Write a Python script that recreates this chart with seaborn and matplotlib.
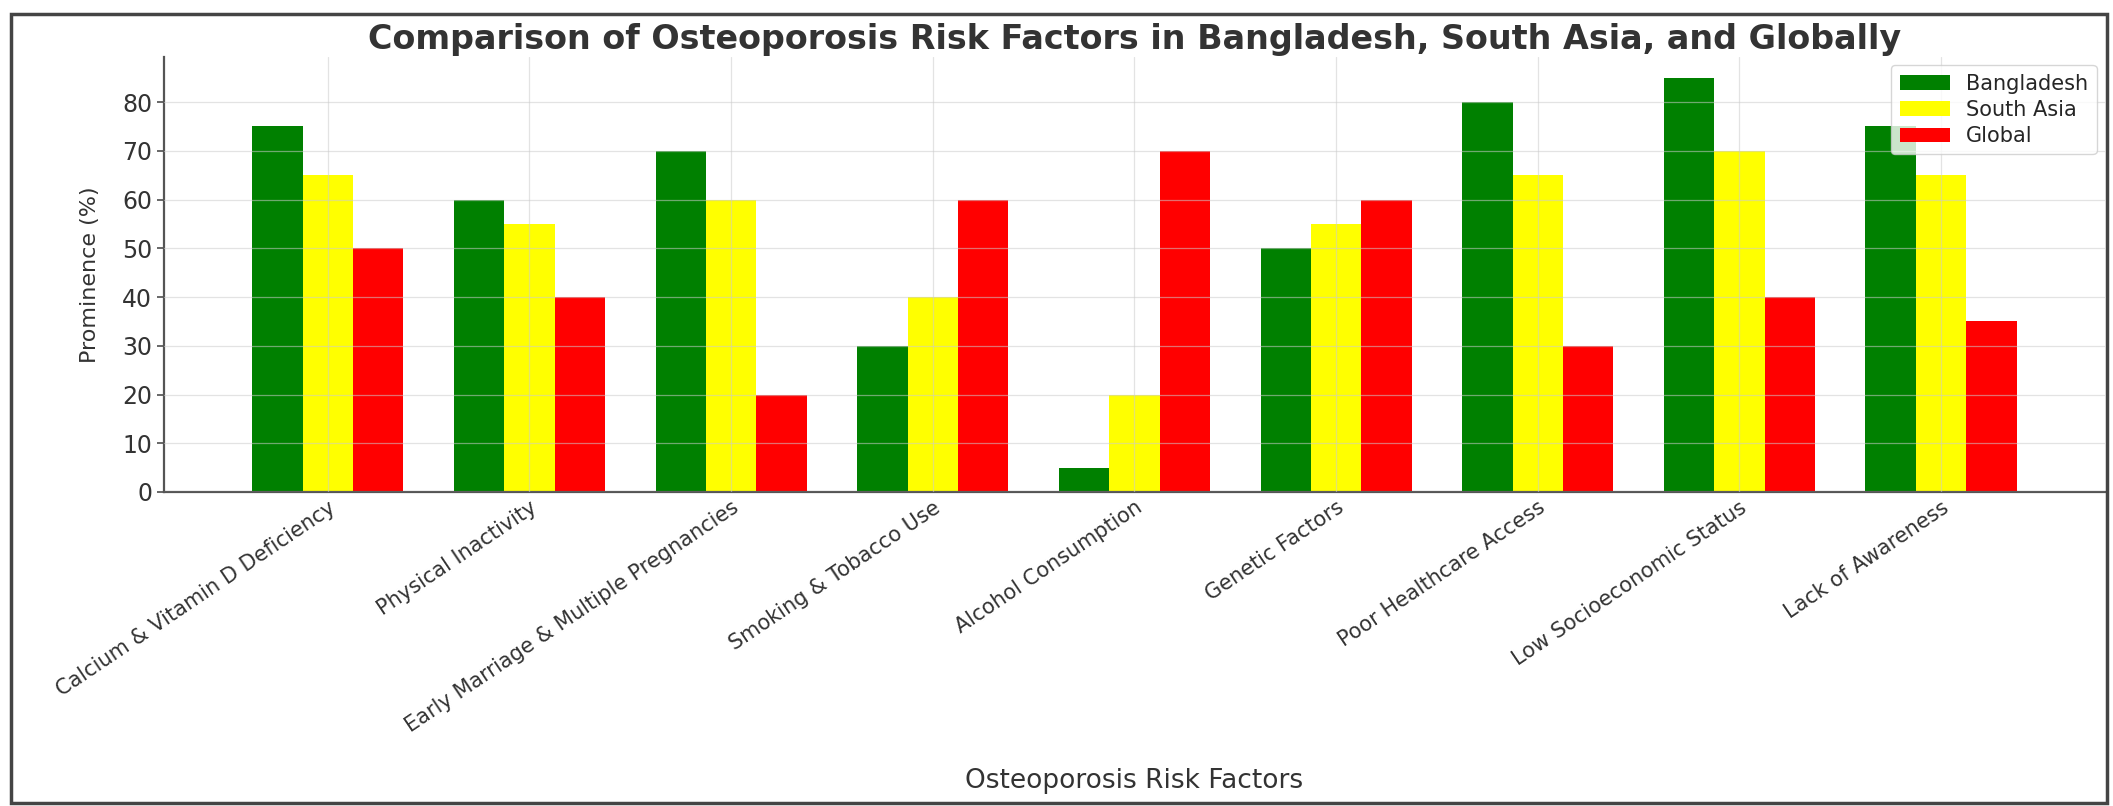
import pandas as pd
import seaborn as sns
import matplotlib.pyplot as plt
from matplotlib.patches import Rectangle

# data
factors = [
    "Calcium & Vitamin D Deficiency",
    "Physical Inactivity",
    "Early Marriage & Multiple Pregnancies",
    "Smoking & Tobacco Use",
    "Alcohol Consumption",
    "Genetic Factors",
    "Poor Healthcare Access",
    "Low Socioeconomic Status",
    "Lack of Awareness",
]
bangladesh = [75, 60, 70, 30, 5, 50, 80, 85, 75]
south_asia = [65, 55, 60, 40, 20, 55, 65, 70, 65]
global_vals = [50, 40, 20, 60, 70, 60, 30, 40, 35]
regions = ["Bangladesh", "South Asia", "Global"]
colors = ["green", "yellow", "red"]

df = pd.DataFrame({
    "factor": factors * 3,
    "value": bangladesh + south_asia + global_vals,
    "region": [r for r in regions for _ in factors],
})

sns.set_theme(style="whitegrid")
plt.rcParams['font.family'] = ['DejaVu Sans']

fig = plt.figure(figsize=(21.13, 8.06), dpi=100)
ax = fig.add_axes([0.0776, 0.3896, 0.9186, 0.5397])

sns.barplot(
    data=df,
    x="factor",
    y="value",
    hue="region",
    palette=colors,
    saturation=1,
    width=0.75,
    errorbar=None,
    linewidth=0,
    ax=ax,
)

ax.set_xlim(-0.8125, 8.8125)
ax.set_ylim(0, 89.25)
ax.set_yticks(range(0, 90, 10))

# grid on both axes, drawn over the bars
ax.set_axisbelow(False)
ax.grid(True, axis="both", color="#cccccc", linewidth=0.9, alpha=0.55)

for side in ["top", "right"]:
    ax.spines[side].set_visible(False)
for side in ["left", "bottom"]:
    ax.spines[side].set_color("#555555")
    ax.spines[side].set_linewidth(1.6)

ax.tick_params(axis="x", direction="in", length=5, color="#555555", labelsize=15,
               labelcolor="#333333", pad=4)
ax.tick_params(axis="y", direction="out", length=5, color="#555555", left=True,
               labelsize=17, labelcolor="#333333")
plt.setp(ax.get_xticklabels(), rotation=34, ha="right", rotation_mode="anchor")

ax.set_title("Comparison of Osteoporosis Risk Factors in Bangladesh, South Asia, and Globally",
             fontsize=24, fontweight="bold", color="#333333", pad=6)
ax.set_xlabel("Osteoporosis Risk Factors", fontsize=19, color="#333333")
ax.set_ylabel("Prominence (%)", fontsize=16, color="#333333", labelpad=16)
ax.xaxis.set_label_coords(0.5, -0.635)

ax.legend(loc="upper right", fontsize=15, frameon=True, framealpha=0.8,
          edgecolor="#cccccc", handlelength=2.4, labelspacing=0.3,
          borderaxespad=0.4)

# outer frame of the picture
fig.patches.append(Rectangle((0.005, 0.004), 0.992, 0.979, transform=fig.transFigure,
                             fill=False, edgecolor="#444444", linewidth=2.5))

fig.savefig("out.png", dpi=100)
